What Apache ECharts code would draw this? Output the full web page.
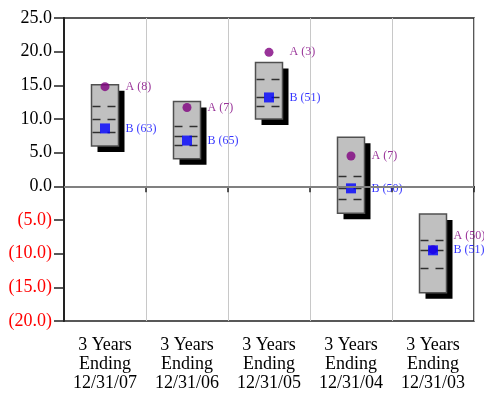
<!DOCTYPE html>
<html>
<head>
<meta charset="utf-8">
<script src="https://cdn.jsdelivr.net/npm/echarts@6/dist/echarts.min.js"></script>
<style>
  html, body { margin: 0; padding: 0; background: #fff; }
  #chart { width: 484px; height: 395px; }
</style>
</head>
<body>
<div id="chart"></div>
<script>
// Period labels
const categories = [
  '3 Years\nEnding\n12/31/07',
  '3 Years\nEnding\n12/31/06',
  '3 Years\nEnding\n12/31/05',
  '3 Years\nEnding\n12/31/04',
  '3 Years\nEnding\n12/31/03'
];

// Peer group range (top / bottom of each box) and quartile marks
const rangeHigh = [15.1, 12.6, 18.4, 7.3, -4.1];
const rangeLow = [6.0, 4.1, 10.0, -4.0, -15.8];
const quartileUpper = [12.0, 9.0, 16.0, 1.6, -7.9];
const quartileMedian = [10.0, 7.5, 13.3, -0.3, -9.4];
const quartileLower = [8.0, 6.2, 12.0, -1.9, -12.2];

// Returns and percentile ranks of the two portfolios
const returnsA = [14.8, 11.7, 19.9, 4.5, -9.4];
const returnsB = [8.6, 6.8, 13.2, -0.3, -9.5];
const ranksA = [8, 7, 3, 7, 50];
const ranksB = [63, 65, 51, 50, 51];

// Y axis range
const yMin = -20;
const yMax = 25;
const yStep = 5;

const serif = "'Liberation Serif', 'Times New Roman', serif";

const boxData = categories.map((c, i) => [
  i, rangeHigh[i], rangeLow[i], quartileUpper[i], quartileMedian[i], quartileLower[i]
]);

function renderBox(params, api) {
  const i = api.value(0);
  const top = api.coord([i, api.value(1)]);
  const bottom = api.coord([i, api.value(2)]);
  const w = 27;
  const left = top[0] - w / 2;
  const h = bottom[1] - top[1];
  const shift = 6;
  const children = [
    {
      type: 'rect',
      shape: { x: left + shift, y: top[1] + shift, width: w, height: h },
      style: { fill: '#000' }
    },
    {
      type: 'rect',
      shape: { x: left, y: top[1], width: w, height: h },
      style: { fill: '#c0c0c0', stroke: '#505050', lineWidth: 1.5 }
    }
  ];
  [3, 4, 5].forEach(k => {
    const y = Math.round(api.coord([i, api.value(k)])[1]) + 0.5;
    [[1, 9], [16, 24]].forEach(seg => {
      children.push({
        type: 'line',
        shape: { x1: left + seg[0], y1: y, x2: left + seg[1], y2: y },
        style: { stroke: '#303030', lineWidth: 1.5 }
      });
    });
  });
  return { type: 'group', children: children };
}

const chart = echarts.init(document.getElementById('chart'), null, { renderer: 'canvas' });

chart.setOption({
  animation: false,
  backgroundColor: '#fff',
  grid: {
    left: 64, right: 10, top: 18, bottom: 74,
    show: true, borderColor: '#222', borderWidth: 1.5, backgroundColor: 'transparent'
  },
  xAxis: {
    type: 'category',
    data: categories,
    boundaryGap: true,
    axisLine: { lineStyle: { color: '#222', width: 2 } },
    axisTick: { show: true, length: 6, lineStyle: { color: '#222', width: 1.5 } },
    splitLine: { show: true, lineStyle: { color: '#c8c8c8', width: 1 } },
    axisLabel: {
      color: '#000', fontFamily: serif, fontSize: 18, lineHeight: 19, margin: 15,
      interval: 0
    }
  },
  yAxis: {
    type: 'value',
    min: yMin, max: yMax, interval: yStep,
    axisLine: { show: true, lineStyle: { color: '#222', width: 2 } },
    axisTick: { show: true, length: 10, lineStyle: { color: '#222', width: 1.5 } },
    splitLine: { show: false },
    axisLabel: {
      fontFamily: serif, fontSize: 18, margin: 12,
      formatter: v => v < 0 ? '(' + Math.abs(v).toFixed(1) + ')' : v.toFixed(1),
      color: v => (Number(v) < 0 ? '#ff0000' : '#000')
    }
  },
  series: [
    {
      type: 'line',
      data: [],
      z: 1,
      silent: true,
      markLine: {
        silent: true,
        symbol: 'none',
        label: { show: false },
        lineStyle: { color: '#808080', width: 2, type: 'solid' },
        data: [{ yAxis: 0 }]
      }
    },
    {
      type: 'custom',
      z: 2,
      renderItem: renderBox,
      encode: { x: 0, y: [1, 2] },
      data: boxData
    },
    {
      name: 'A',
      type: 'scatter',
      z: 3,
      symbol: 'circle',
      symbolSize: 9,
      itemStyle: { color: '#800080' },
      data: returnsA.map((v, i) => ({
        value: [i, v],
        label: i === 4 ? { offset: [0, -14] } : undefined
      })),
      label: {
        show: true, position: 'right', distance: 16,
        fontFamily: serif, fontSize: 12, color: '#800080',
        formatter: p => 'A (' + ranksA[p.dataIndex] + ')'
      }
    },
    {
      name: 'B',
      type: 'scatter',
      z: 4,
      symbol: 'rect',
      symbolSize: 10,
      itemStyle: { color: '#0000ff' },
      data: returnsB.map((v, i) => [i, v]),
      label: {
        show: true, position: 'right', distance: 15.5,
        fontFamily: serif, fontSize: 12, color: '#0000ff',
        formatter: p => 'B (' + ranksB[p.dataIndex] + ')'
      }
    }
  ]
});
</script>
</body>
</html>
